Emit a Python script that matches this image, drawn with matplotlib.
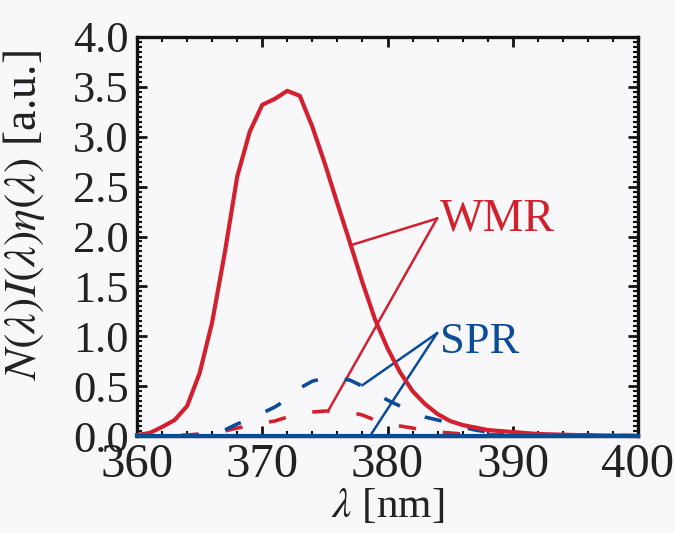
import matplotlib
matplotlib.use("Agg")
import matplotlib.pyplot as plt
from matplotlib.ticker import MultipleLocator

plt.rcParams['font.family'] = ['Liberation Serif', 'DejaVu Serif']
plt.rcParams['mathtext.fontset'] = 'stix'

RED = '#d3202e'
BLUE = '#0b4c98'

# WMR emission spectrum (solid red)
wmr_wl = [360, 361, 362, 363, 364, 365, 366, 367, 368, 369, 370, 371, 372, 373,
          374, 375, 376, 377, 378, 379, 380, 381, 382, 383, 384, 385, 386, 388,
          390, 392, 395, 400]
wmr_val = [0.01, 0.03, 0.09, 0.16, 0.30, 0.63, 1.14, 1.83, 2.60, 3.05, 3.32, 3.38,
           3.46, 3.41, 3.10, 2.73, 2.33, 1.94, 1.54, 1.17, 0.88, 0.64, 0.45, 0.32,
           0.22, 0.15, 0.11, 0.06, 0.04, 0.02, 0.01, 0.0]

# WMR dashed curve
wmr_d_wl = [360, 362, 364, 366, 367, 368, 369, 370, 371, 372, 373, 374, 375, 376,
            377, 378, 379, 380, 381, 382, 383, 384, 385, 386, 388, 390, 395, 400]
wmr_d_val = [0.0, 0.0, 0.01, 0.03, 0.05, 0.08, 0.10, 0.13, 0.15, 0.19, 0.22, 0.24,
             0.25, 0.25, 0.24, 0.21, 0.16, 0.12, 0.10, 0.08, 0.05, 0.04, 0.03, 0.02,
             0.015, 0.01, 0.01, 0.005]

# SPR solid curve
spr_wl = [360, 400]
spr_val = [0.0, 0.0]

# SPR dashed curve
spr_d_wl = [360, 362, 364, 366, 367, 368, 369, 370, 371, 372, 373, 374, 375, 376,
            377, 378, 379, 380, 381, 382, 383, 384, 385, 386, 387, 388, 389, 390,
            392, 395, 400]
spr_d_val = [0.0, 0.0, 0.0, 0.02, 0.06, 0.12, 0.17, 0.23, 0.29, 0.37, 0.48, 0.55,
             0.58, 0.58, 0.56, 0.50, 0.43, 0.36, 0.30, 0.24, 0.19, 0.16, 0.13, 0.09,
             0.06, 0.04, 0.03, 0.02, 0.01, 0.0, 0.0]

x_ticks = [360, 370, 380, 390, 400]
y_ticks = [0.0, 0.5, 1.0, 1.5, 2.0, 2.5, 3.0, 3.5, 4.0]

fig = plt.figure(figsize=(6.75, 5.33), dpi=100)
fig.patch.set_facecolor('#f8f8fa')
ax = fig.add_axes([137 / 675, 1 - 436 / 533, 501 / 675, 399 / 533])
ax.set_facecolor('#f8f8fa')

dash = (0, (4.8, 7.5))
ax.plot(wmr_d_wl, wmr_d_val, color=RED, lw=2.6, linestyle=dash, clip_on=False, zorder=3)
ax.plot(spr_d_wl, spr_d_val, color=BLUE, lw=2.6, linestyle=dash, clip_on=False, zorder=3)
ax.plot(wmr_wl, wmr_val, color=RED, lw=3.0, clip_on=False, zorder=4)
ax.plot(spr_wl, spr_val, color=BLUE, lw=3.0, clip_on=False, zorder=5)

# Labels with leader lines
ax.text(384.2, 2.17, 'WMR', color=RED, fontsize=33, va='center', ha='left')
ax.plot([383.95, 377.0], [2.18, 1.91], color=RED, lw=1.8, zorder=2)
ax.plot([383.95, 375.3], [2.18, 0.26], color=RED, lw=1.8, zorder=2)

ax.text(384.2, 0.94, 'SPR', color=BLUE, fontsize=32, va='center', ha='left')
ax.plot([383.95, 378.0], [1.03, 0.51], color=BLUE, lw=1.8, zorder=2)
ax.plot([383.95, 378.6], [1.03, 0.0], color=BLUE, lw=1.8, zorder=2)

ax.set_xlim(360, 400)
ax.set_ylim(0, 4.0)
ax.set_xticks(x_ticks)
ax.set_yticks(y_ticks)
ax.set_yticklabels([f'{v:.1f}' for v in y_ticks])
ax.xaxis.set_minor_locator(MultipleLocator(2))
ax.yaxis.set_minor_locator(MultipleLocator(0.05))
ax.tick_params(which='both', direction='in', top=True, right=True, colors='#111111')
ax.tick_params(which='major', length=7, width=2.0, pad=6, labelcolor='#222222')
ax.tick_params(which='minor', length=3.5, width=1.5)
ax.tick_params(axis='x', which='major', labelsize=35, pad=5)
ax.tick_params(axis='y', which='major', labelsize=32, pad=6)
for s in ax.spines.values():
    s.set_linewidth(2.4)
    s.set_color('#111111')

ax.set_xlabel(r'$\lambda$ [nm]', fontsize=31, color='#222222', labelpad=0)
ax.set_ylabel(r'$N(\lambda)I(\lambda)\eta(\lambda)$ [a.u.]', fontsize=33, color='#222222')
ax.yaxis.set_label_coords(-0.18, 0.555)

fig.savefig('out.png', dpi=100, facecolor=fig.get_facecolor())
